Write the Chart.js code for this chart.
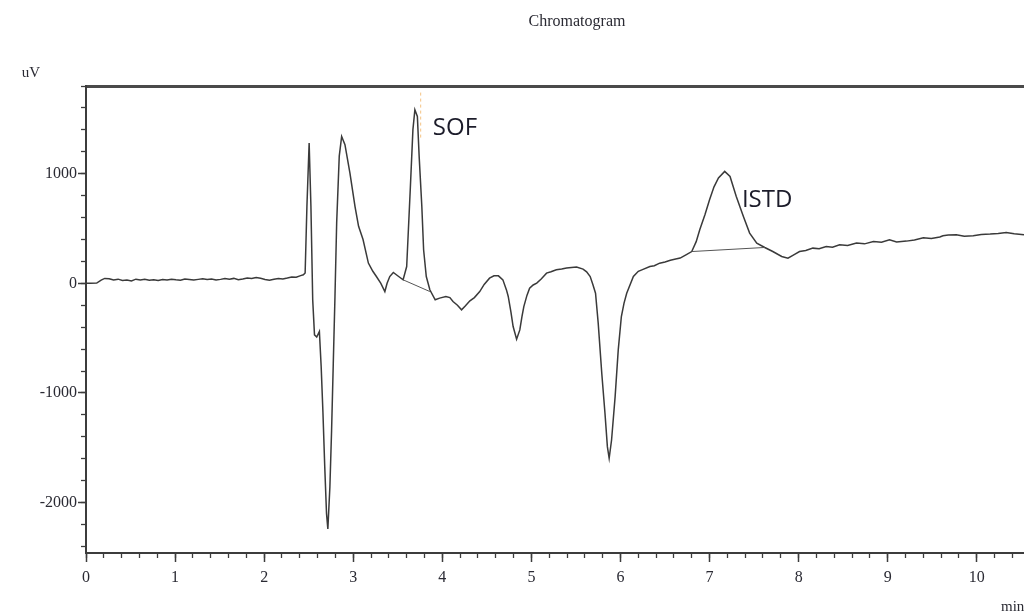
<!DOCTYPE html>
<html><head><meta charset="utf-8">
<script src="https://cdn.jsdelivr.net/npm/chart.js@4.4.0/dist/chart.umd.min.js"></script>
<style>html,body{margin:0;padding:0;background:#fff;overflow:hidden}#wrap{width:1024px;height:613px}</style>
</head><body><div id="wrap"><canvas id="c" width="1024" height="613"></canvas></div>
<script>
// ---- data ----
const chartTitle = 'Chromatogram';
const yUnit = 'uV';
const xUnit = 'min';

const timeMin = [
 0.00,0.05,0.12,0.17,0.21,0.26,0.31,0.36,0.41,0.46,0.51,0.56,0.61,0.66,0.71,0.76,0.81,0.86,0.91,0.96,
 1.01,1.06,1.11,1.16,1.21,1.26,1.31,1.36,1.41,1.46,1.51,1.56,1.61,1.66,1.71,1.76,1.81,1.86,1.91,1.96,
 2.01,2.06,2.11,2.16,2.21,2.26,2.31,2.36,2.41,2.44,2.46,2.48,2.505,2.525,2.545,2.565,2.59,2.62,2.64,2.66,
 2.68,2.70,2.715,2.738,2.757,2.776,2.795,2.814,2.843,2.87,2.907,2.963,3.02,3.06,3.11,3.17,3.22,3.26,3.31,3.355,
 3.38,3.41,3.45,3.51,3.56,3.60,3.64,3.67,3.692,3.72,3.74,3.77,3.79,3.82,3.86,3.92,3.97,4.04,4.085,4.12,
 4.17,4.216,4.26,4.31,4.36,4.42,4.47,4.53,4.58,4.63,4.68,4.72,4.74,4.77,4.795,4.834,4.87,4.895,4.915,4.95,
 4.98,5.02,5.06,5.11,5.17,5.22,5.28,5.34,5.395,5.45,5.507,5.58,5.62,5.66,5.69,5.72,5.75,5.79,5.826,5.853,
 5.873,5.90,5.94,5.975,6.01,6.04,6.07,6.145,6.20,6.24,6.33,6.38,6.44,6.50,6.56,6.62,6.67,6.74,6.80,6.85,
 6.89,6.95,7.00,7.05,7.10,7.17,7.23,7.30,7.38,7.45,7.53,7.62,7.71,7.81,7.88,7.95,8.01,8.08,8.16,8.23,
 8.31,8.38,8.46,8.55,8.65,8.74,8.84,8.93,9.02,9.10,9.21,9.30,9.40,9.49,9.585,9.62,9.68,9.77,9.86,9.96,
 10.05,10.15,10.24,10.33,10.42,10.53
];
const signalUv = [
 0,0,2,30,45,42,30,38,25,30,22,38,30,36,28,33,25,35,30,38,
 32,28,40,35,30,36,42,35,40,30,36,44,38,45,33,40,48,45,52,46,
 35,28,38,45,40,48,58,55,70,78,95,700,1280,700,-150,-470,-490,-440,-760,-1180,
 -1670,-2100,-2240,-1855,-1340,-730,-120,550,1160,1340,1265,1006,700,520,400,185,110,62,0,-75,
 0,62,99,62,32,153,854,1402,1584,1523,1158,701,306,62,-59,-150,-135,-120,-130,-166,
 -200,-242,-205,-160,-130,-75,-10,47,68,68,32,-60,-120,-260,-394,-510,-425,-300,-212,-110,
 -44,-15,2,40,93,105,123,130,139,145,148,130,105,62,-10,-90,-363,-820,-1185,-1490,
 -1596,-1429,-1034,-607,-303,-180,-90,62,110,123,153,160,184,195,210,222,230,262,290,380,
 489,630,763,880,961,1021,975,793,610,458,367,327,290,245,230,262,290,300,321,315,
 336,330,352,345,367,360,382,375,397,378,385,395,415,410,422,434,440,443,430,434,
 445,449,455,464,452,443
];

// integration baselines drawn under the two named peaks
const sofBaseT = [3.56, 3.86];
const sofBaseV = [32, -75];
const istdBaseT = [6.80, 7.62];
const istdBaseV = [290, 327];

// faint retention marker at SOF apex
const markerT = [3.757, 3.757];
const markerV = [1740, 1310];

// peak names and anchor points
const peakNames = ['SOF', 'ISTD'];
const peakLabelT = [3.894, 7.363];
const peakLabelV = [1420, 763];

// axis ranges / ticks
const X_MIN = 0, X_MAX = 10.53, X_MAJOR = 1, X_MINOR = 0.2;
const Y_MIN = -2460, Y_MAX = 1800, Y_MAJOR = 1000, Y_MINOR = 200;

const pts = (xs, ys) => xs.map((x, i) => ({x: x, y: ys[i]}));
const isMultiple = (v, step) => Math.abs(v / step - Math.round(v / step)) < 1e-6;

const textPlugin = {
  id: 'texts',
  afterDraw(chart) {
    const {ctx, scales} = chart;
    ctx.save();
    ctx.fillStyle = '#2a2a33';
    ctx.font = '16px "Liberation Serif"';
    ctx.textAlign = 'center';
    ctx.textBaseline = 'middle';
    ctx.fillText(chartTitle, 577, 22);
    ctx.font = '15px "Liberation Serif"';
    ctx.fillText(yUnit, 31, 73);
    ctx.textAlign = 'left';
    ctx.fillText(xUnit, 1001, 607);
    ctx.font = '24px "Open Sans"';
    ctx.fillStyle = '#1c1c2a';
    peakNames.forEach((n, i) => {
      ctx.fillText(n, scales.x.getPixelForValue(peakLabelT[i]), scales.y.getPixelForValue(peakLabelV[i]));
    });
    ctx.restore();
  }
};

const tickFont = {family: '"Liberation Serif"', size: 16};
const axisCol = '#3c3c3c';

new Chart(document.getElementById('c'), {
  type: 'line',
  data: {
    datasets: [
      {data: pts(sofBaseT, sofBaseV), borderColor: '#555', borderWidth: 1, pointRadius: 0, tension: 0, xAxisID: 'x', yAxisID: 'y'},
      {data: pts(istdBaseT, istdBaseV), borderColor: '#555', borderWidth: 1, pointRadius: 0, tension: 0, xAxisID: 'x', yAxisID: 'y'},
      {data: pts(markerT, markerV), borderColor: 'rgba(240,175,90,0.75)', borderWidth: 1, borderDash: [3, 3], pointRadius: 0, xAxisID: 'x', yAxisID: 'y'},
      {data: pts(timeMin, signalUv), borderColor: '#3a3a3a', borderWidth: 1.5, pointRadius: 0, tension: 0, xAxisID: 'x', yAxisID: 'y'}
    ]
  },
  options: {
    responsive: false,
    animation: false,
    parsing: false,
    layout: {padding: {top: 86, left: 0, right: 0, bottom: 0}},
    plugins: {legend: {display: false}, tooltip: {enabled: false}, title: {display: false}},
    scales: {
      x: {
        type: 'linear', position: 'bottom', min: X_MIN, max: X_MAX,
        afterFit(s) { s.height = 60; },
        border: {display: true, color: axisCol, width: 2},
        grid: {drawOnChartArea: false, drawTicks: true, tickLength: 9, tickColor: axisCol, tickWidth: 1.5},
        ticks: {stepSize: X_MAJOR, includeBounds: false, autoSkip: false, maxRotation: 0, padding: 6,
          color: '#2a2a33', font: tickFont,
          callback: v => String(Math.round(v))}
      },
      xMinor: {
        type: 'linear', position: {y: Y_MIN}, min: X_MIN, max: X_MAX,
        border: {display: false},
        grid: {drawOnChartArea: false, drawTicks: true, tickLength: 5, tickColor: axisCol, tickWidth: 1.3},
        ticks: {stepSize: X_MINOR, includeBounds: false, autoSkip: false, display: false}
      },
      xTop: {
        type: 'linear', position: 'top', min: X_MIN, max: X_MAX,
        afterFit(s) { s.height = 0; },
        border: {display: true, color: '#4a4a4a', width: 3},
        grid: {display: false, drawTicks: false},
        ticks: {display: false}
      },
      y: {
        type: 'linear', position: 'left', min: Y_MIN, max: Y_MAX,
        afterFit(s) { s.width = 86; },
        afterBuildTicks(s) { s.ticks = s.ticks.filter(t => isMultiple(t.value, Y_MAJOR)); },
        border: {display: true, color: axisCol, width: 2},
        grid: {drawOnChartArea: false, drawTicks: true, tickLength: 8, tickColor: axisCol, tickWidth: 1.5},
        ticks: {stepSize: Y_MINOR, includeBounds: false, autoSkip: false, padding: 1,
          color: '#2a2a33', font: tickFont,
          callback: v => String(Math.round(v))}
      },
      yMinor: {
        type: 'linear', position: {x: X_MIN}, min: Y_MIN, max: Y_MAX,
        border: {display: false},
        grid: {drawOnChartArea: false, drawTicks: true, tickLength: 5, tickColor: axisCol, tickWidth: 1.3},
        ticks: {stepSize: Y_MINOR, includeBounds: false, autoSkip: false, display: false}
      }
    }
  },
  plugins: [textPlugin]
});
</script>
</body></html>
